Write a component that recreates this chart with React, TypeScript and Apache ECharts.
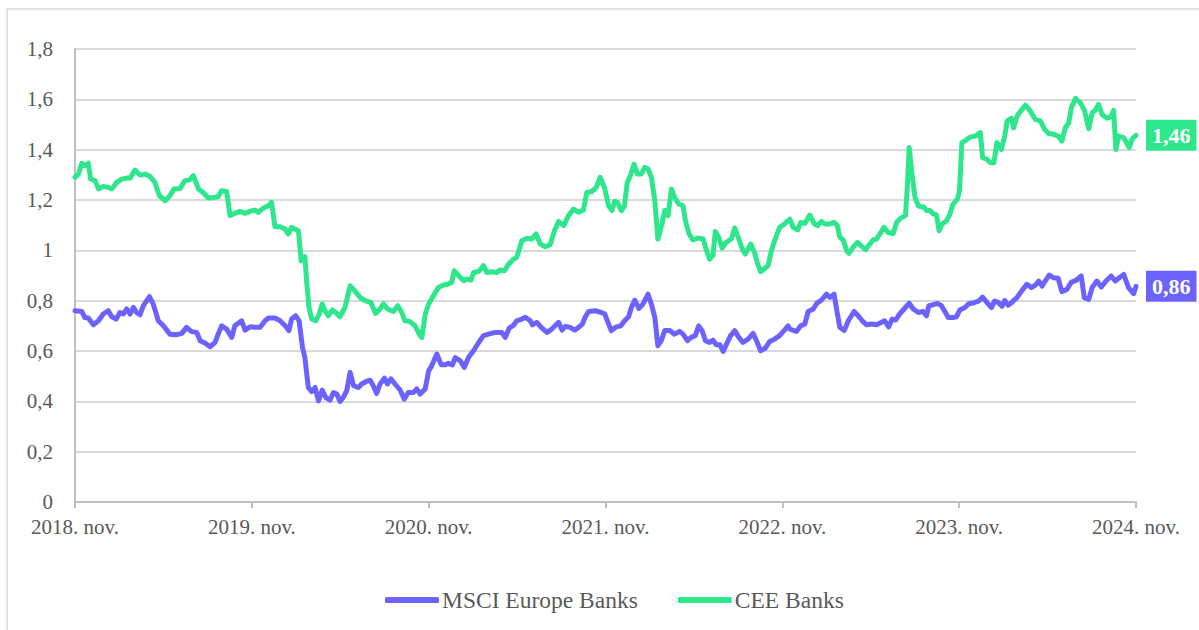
import React, { useEffect, useRef } from "react";
import * as echarts from "echarts";

// Time position in weeks since 2018. nov. (52 weeks per year on the axis)
const yearLabels = ["2018", "2019", "2020", "2021", "2022", "2023", "2024"];
const weeksPerYear = 52;

const ceeWeeks = [
  0.0, 1.0, 2.0, 2.9, 3.9, 4.6, 5.9, 6.9, 8.3, 9.8, 10.8, 12.3, 13.7, 15.2, 16.2, 17.6, 19.1, 20.6, 22.1, 23.5,
  24.8, 26.5, 27.9, 29.1, 30.9, 32.3, 33.6, 34.8, 36.3, 37.7, 39.2, 40.7, 42.1, 43.1, 44.6, 45.6, 47.0, 48.5, 50.0, 51.4,
  52.9, 53.9, 55.4, 56.9, 57.8, 58.8, 60.3, 61.8, 62.7, 63.7, 65.7, 66.5, 67.6, 68.1, 68.8, 69.6, 70.8, 71.8, 72.7, 73.5,
  74.5, 75.7, 77.0, 77.9, 79.4, 80.9, 82.3, 83.8, 85.3, 87.0, 88.4, 89.7, 90.7, 91.9, 93.6, 94.9, 96.1, 97.0, 98.5, 100.0,
  101.5, 102.0, 103.0, 104.0, 105.4, 106.9, 108.4, 109.8, 110.8, 111.5, 112.8, 114.3, 115.2, 116.5, 117.2, 118.7, 120.1, 121.1, 122.6, 124.1,
  125.0, 126.3, 127.5, 129.0, 129.9, 131.4, 132.9, 134.3, 135.6, 136.8, 138.3, 139.7, 141.0, 142.2, 143.7, 145.1, 146.6, 148.1, 149.5, 150.5,
  152.0, 153.3, 154.4, 155.7, 156.9, 157.9, 158.7, 159.5, 160.7, 161.6, 162.4, 163.3, 164.4, 165.4, 166.5, 167.5, 168.5, 169.5, 170.5, 171.4,
  172.6, 173.4, 174.4, 175.4, 176.3, 177.5, 178.8, 179.5, 180.5, 181.7, 183.2, 184.7, 185.7, 186.6, 187.6, 188.3, 189.3, 190.3, 191.5, 193.0,
  194.0, 195.2, 196.1, 197.1, 198.7, 199.9, 200.6, 201.6, 202.6, 203.8, 204.8, 205.7, 207.2, 208.4, 209.7, 210.2, 211.2, 212.5, 213.4, 214.6,
  216.1, 217.4, 218.3, 219.5, 220.5, 222.0, 223.2, 224.2, 224.9, 225.9, 226.9, 227.6, 228.8, 230.1, 231.3, 232.5, 233.7, 234.7, 235.7, 236.7,
  237.9, 239.1, 240.6, 241.6, 242.8, 244.2, 244.8, 245.3, 246.0, 247.0, 248.0, 248.9, 249.7, 250.4, 251.4, 252.4, 253.3, 254.1, 255.0, 256.3,
  257.3, 258.2, 259.5, 260.1, 260.8, 262.0, 263.3, 264.8, 266.2, 266.9, 268.2, 269.2, 270.2, 271.1, 272.4, 273.4, 274.1, 275.3, 276.0, 277.0,
  278.5, 279.5, 280.9, 282.4, 283.9, 285.1, 286.3, 287.8, 289.1, 290.2, 291.2, 292.2, 293.0, 294.2, 295.6, 296.9, 298.1, 299.1, 300.0, 301.0,
  302.0, 303.5, 304.7, 305.4, 306.1, 306.9, 308.4, 310.0, 310.8, 312.0,
];
const ceeValues = [
  1.29, 1.303, 1.346, 1.336, 1.346, 1.283, 1.277, 1.244, 1.254, 1.25, 1.244, 1.27, 1.283, 1.287, 1.287, 1.319, 1.299, 1.303, 1.293, 1.27,
  1.217, 1.197, 1.217, 1.244, 1.246, 1.277, 1.279, 1.297, 1.244, 1.23, 1.208, 1.21, 1.213, 1.237, 1.234, 1.138, 1.147, 1.155, 1.147, 1.155,
  1.16, 1.151, 1.168, 1.177, 1.19, 1.094, 1.094, 1.085, 1.065, 1.091, 1.078, 0.959, 0.975, 0.88, 0.773, 0.727, 0.72, 0.747, 0.787, 0.76,
  0.74, 0.763, 0.749, 0.736, 0.773, 0.859, 0.839, 0.813, 0.8, 0.793, 0.749, 0.767, 0.787, 0.767, 0.757, 0.78, 0.753, 0.72, 0.717, 0.7,
  0.661, 0.654, 0.747, 0.787, 0.82, 0.853, 0.862, 0.866, 0.873, 0.919, 0.899, 0.879, 0.886, 0.882, 0.912, 0.916, 0.939, 0.912, 0.915, 0.912,
  0.922, 0.919, 0.945, 0.965, 0.972, 1.038, 1.048, 1.045, 1.065, 1.025, 1.014, 1.022, 1.078, 1.115, 1.098, 1.138, 1.164, 1.151, 1.16, 1.23,
  1.234, 1.25, 1.29, 1.25, 1.177, 1.158, 1.195, 1.191, 1.158, 1.177, 1.27, 1.296, 1.343, 1.303, 1.303, 1.33, 1.323, 1.29, 1.197, 1.045,
  1.105, 1.158, 1.138, 1.244, 1.211, 1.184, 1.177, 1.118, 1.067, 1.041, 1.049, 1.045, 0.999, 0.965, 0.979, 1.075, 1.051, 1.009, 1.032, 1.045,
  1.089, 1.045, 1.009, 0.985, 1.025, 0.988, 0.952, 0.915, 0.926, 0.939, 0.999, 1.038, 1.091, 1.102, 1.118, 1.124, 1.091, 1.081, 1.111, 1.107,
  1.14, 1.105, 1.098, 1.115, 1.105, 1.105, 1.111, 1.098, 1.052, 1.041, 0.999, 0.988, 1.012, 1.032, 1.016, 1.003, 1.025, 1.041, 1.045, 1.065,
  1.091, 1.071, 1.067, 1.111, 1.128, 1.138, 1.264, 1.409, 1.317, 1.211, 1.177, 1.173, 1.171, 1.158, 1.158, 1.144, 1.142, 1.078, 1.105, 1.118,
  1.144, 1.184, 1.204, 1.236, 1.428, 1.437, 1.45, 1.454, 1.468, 1.368, 1.362, 1.348, 1.348, 1.428, 1.401, 1.454, 1.514, 1.525, 1.487, 1.534,
  1.56, 1.577, 1.554, 1.52, 1.514, 1.481, 1.464, 1.461, 1.454, 1.434, 1.487, 1.507, 1.567, 1.604, 1.587, 1.554, 1.483, 1.547, 1.556, 1.58,
  1.54, 1.525, 1.53, 1.556, 1.401, 1.454, 1.448, 1.408, 1.441, 1.457,
];

const msciWeeks = [
  0.0, 2.0, 2.9, 3.9, 5.4, 6.9, 8.3, 9.8, 10.8, 12.1, 13.2, 14.2, 15.2, 16.2, 17.2, 18.1, 19.1, 20.1, 21.9, 23.0,
  24.5, 26.0, 27.9, 29.9, 31.4, 32.8, 34.3, 35.8, 36.8, 38.2, 39.7, 41.2, 42.1, 43.1, 44.6, 46.1, 47.0, 49.0, 50.0, 51.5,
  52.9, 54.4, 55.9, 56.9, 58.8, 60.3, 61.8, 62.9, 63.7, 64.9, 65.9, 66.9, 67.6, 68.6, 69.6, 70.6, 71.6, 72.7, 73.7, 75.0,
  76.0, 77.0, 77.9, 78.9, 79.9, 80.9, 81.9, 83.3, 84.3, 85.5, 86.8, 87.7, 88.7, 89.7, 91.0, 91.9, 92.9, 94.1, 95.6, 96.8,
  98.0, 99.5, 100.5, 101.5, 103.0, 104.0, 104.9, 106.4, 107.7, 108.9, 109.8, 111.0, 111.8, 113.3, 114.5, 115.7, 117.2, 118.7, 120.1, 121.6,
  123.6, 125.5, 126.5, 127.7, 129.0, 129.9, 131.4, 132.4, 133.9, 134.5, 135.8, 137.1, 138.8, 140.2, 142.2, 143.2, 144.3, 145.6, 146.9, 148.1,
  149.2, 150.0, 151.0, 153.0, 154.8, 155.8, 156.7, 157.7, 159.2, 160.5, 161.6, 162.8, 163.6, 164.6, 165.8, 167.0, 168.5, 169.5, 170.5, 171.4,
  172.4, 173.4, 174.9, 176.3, 177.8, 178.8, 180.1, 181.2, 182.4, 183.4, 184.4, 185.4, 186.6, 187.6, 188.6, 189.6, 190.6, 191.5, 192.8, 194.0,
  195.2, 196.4, 197.9, 199.4, 200.4, 201.6, 203.0, 204.3, 205.7, 207.2, 208.5, 209.7, 210.2, 212.2, 213.4, 214.6, 215.6, 217.1, 218.1, 219.5,
  221.0, 222.0, 223.2, 224.2, 224.9, 226.2, 227.4, 229.1, 230.3, 231.5, 232.8, 234.2, 235.7, 237.2, 238.1, 239.3, 240.3, 241.3, 242.6, 243.8,
  245.3, 246.5, 248.0, 249.4, 250.4, 251.1, 252.4, 253.6, 254.8, 255.8, 256.8, 258.2, 259.2, 260.2, 261.7, 262.8, 264.3, 265.7, 266.9, 268.2,
  269.5, 270.4, 271.6, 272.6, 273.4, 274.4, 275.7, 277.0, 278.5, 279.9, 281.2, 282.4, 283.4, 284.4, 285.3, 286.5, 287.8, 289.1, 290.2, 291.7,
  293.0, 294.4, 295.9, 296.8, 298.1, 299.1, 300.5, 301.8, 303.2, 304.7, 305.9, 307.1, 308.4, 309.8, 311.3, 312.0,
];
const msciValues = [
  0.76, 0.757, 0.733, 0.731, 0.704, 0.72, 0.747, 0.76, 0.736, 0.727, 0.753, 0.747, 0.767, 0.747, 0.773, 0.753, 0.744, 0.78, 0.816, 0.787,
  0.72, 0.7, 0.667, 0.665, 0.67, 0.694, 0.677, 0.674, 0.641, 0.632, 0.617, 0.634, 0.667, 0.7, 0.687, 0.654, 0.7, 0.72, 0.683, 0.696,
  0.694, 0.694, 0.72, 0.731, 0.731, 0.72, 0.7, 0.681, 0.727, 0.74, 0.72, 0.614, 0.574, 0.455, 0.439, 0.455, 0.402, 0.445, 0.416, 0.405,
  0.435, 0.429, 0.4, 0.416, 0.442, 0.515, 0.462, 0.455, 0.469, 0.478, 0.484, 0.462, 0.431, 0.469, 0.492, 0.469, 0.489, 0.469, 0.445, 0.409,
  0.435, 0.435, 0.449, 0.429, 0.45, 0.521, 0.541, 0.588, 0.545, 0.545, 0.551, 0.545, 0.574, 0.561, 0.535, 0.574, 0.601, 0.634, 0.661, 0.667,
  0.674, 0.674, 0.654, 0.691, 0.703, 0.72, 0.727, 0.734, 0.72, 0.704, 0.714, 0.694, 0.674, 0.687, 0.714, 0.683, 0.698, 0.694, 0.683, 0.694,
  0.707, 0.734, 0.757, 0.76, 0.753, 0.747, 0.714, 0.681, 0.696, 0.7, 0.72, 0.736, 0.773, 0.802, 0.769, 0.786, 0.826, 0.786, 0.734, 0.621,
  0.641, 0.681, 0.681, 0.667, 0.678, 0.667, 0.641, 0.654, 0.661, 0.7, 0.681, 0.641, 0.634, 0.643, 0.625, 0.625, 0.598, 0.625, 0.661, 0.681,
  0.654, 0.634, 0.647, 0.67, 0.641, 0.601, 0.612, 0.638, 0.647, 0.661, 0.681, 0.7, 0.687, 0.678, 0.7, 0.707, 0.757, 0.767, 0.789, 0.802,
  0.826, 0.813, 0.826, 0.747, 0.694, 0.681, 0.72, 0.757, 0.74, 0.72, 0.704, 0.707, 0.704, 0.714, 0.72, 0.696, 0.727, 0.723, 0.749, 0.767,
  0.79, 0.767, 0.753, 0.757, 0.74, 0.78, 0.784, 0.789, 0.78, 0.757, 0.733, 0.733, 0.736, 0.763, 0.773, 0.788, 0.792, 0.798, 0.814, 0.792,
  0.772, 0.798, 0.792, 0.778, 0.801, 0.782, 0.796, 0.812, 0.841, 0.865, 0.852, 0.862, 0.878, 0.858, 0.878, 0.902, 0.891, 0.889, 0.836, 0.845,
  0.874, 0.881, 0.898, 0.812, 0.805, 0.852, 0.878, 0.854, 0.878, 0.898, 0.878, 0.891, 0.904, 0.852, 0.828, 0.857,
];

const seriesNames = ["MSCI Europe Banks", "CEE Banks"];
const seriesColors = ["#6C63FF", "#2EE68C"];

const FONT = "'Liberation Serif', 'Times New Roman', serif";
const comma = (v: number, d: number) => v.toFixed(d).replace(".", ",");

export default function App() {
  const ref = useRef<HTMLDivElement>(null);
  useEffect(() => {
    if (!ref.current) return;
    const chart = echarts.init(ref.current, undefined, { renderer: "svg" });
    const mk = (weeks: number[], vals: number[]) => weeks.map((w, i) => [w, vals[i]]);
    const datasets = [mk(msciWeeks, msciValues), mk(ceeWeeks, ceeValues)];
    chart.setOption({
      animation: false,
      backgroundColor: "#ffffff",
      textStyle: { fontFamily: FONT },
      graphic: [
        {
          type: "rect",
          silent: true,
          shape: { x: 7, y: 9, width: 1250, height: 700 },
          style: { fill: "none", stroke: "#d9d9d9", lineWidth: 1.5 },
        },
      ],
      grid: { left: 75, right: 63, top: 49, bottom: 128 },
      legend: {
        bottom: 13,
        left: 380,
        icon: "roundRect",
        itemWidth: 54,
        itemHeight: 6,
        itemGap: 40,
        textStyle: { fontFamily: FONT, fontSize: 23.5, color: "#595959", padding: [0, 0, 0, -2] },
        data: seriesNames,
      },
      xAxis: {
        type: "value",
        min: 0,
        max: weeksPerYear * (yearLabels.length - 1),
        interval: weeksPerYear,
        axisLine: { show: true, lineStyle: { color: "#bfbfbf", width: 2 } },
        axisTick: { show: true, length: 6, lineStyle: { color: "#bfbfbf", width: 2 } },
        splitLine: { show: false },
        axisLabel: {
          color: "#595959",
          fontFamily: FONT,
          fontSize: 21,
          margin: 14,
          showMinLabel: true,
          showMaxLabel: true,
          formatter: (v: number) => `${yearLabels[Math.round(v / weeksPerYear)]}. nov.`,
        },
      },
      yAxis: {
        type: "value",
        min: 0,
        max: 1.8,
        interval: 0.2,
        axisLine: { show: true, lineStyle: { color: "#bfbfbf", width: 2 } },
        axisTick: { show: false },
        splitLine: { show: true, lineStyle: { color: "#d9d9d9", width: 2 } },
        axisLabel: {
          color: "#595959",
          fontFamily: FONT,
          fontSize: 21,
          margin: 22,
          formatter: (v: number) => comma(v, 1).replace(/,0$/, ""),
        },
      },
      series: seriesNames.map((name, i) => ({
        name,
        type: "line",
        data: datasets[i],
        showSymbol: false,
        symbol: "none",
        color: seriesColors[i],
        lineStyle: { width: 5, color: seriesColors[i], cap: "round", join: "round" },
        endLabel: {
          show: true,
          distance: 10,
          formatter: (p: any) => comma(p.value[1], 2),
          color: "#ffffff",
          backgroundColor: seriesColors[i],
          fontFamily: FONT,
          fontWeight: "bold",
          fontSize: 22,
          padding: [5, 6, 4, 6],
        },
      })),
    });
    return () => chart.dispose();
  }, []);
  return <div ref={ref} style={{ position: "absolute", left: 0, top: 0, width: 1199, height: 630 }} />;
}
